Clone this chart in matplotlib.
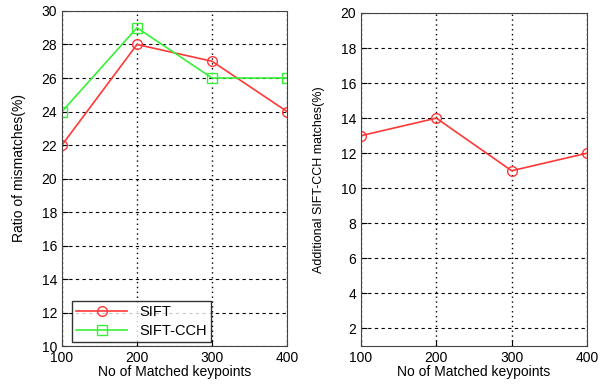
import matplotlib
matplotlib.use("Agg")
from matplotlib import pyplot as plt

plt.rcParams['font.family'] = ['Liberation Sans', 'DejaVu Sans']

keypoints = [100, 200, 300, 400]
sift = [22, 28, 27, 24]
sift_cch = [24, 29, 26, 26]
additional = [13, 14, 11, 12]

fig = plt.figure(figsize=(6.11, 3.90), dpi=100)
ax1 = fig.add_axes([0.1015, 0.1128, 0.3682, 0.859])
ax2 = fig.add_axes([0.5908, 0.1128, 0.3699, 0.8539])

red = "#ff3838"
green = "#38f038"

ax1.plot(keypoints, sift, '-o', color=red, mfc='none', ms=7, lw=1.2, label="SIFT")
ax1.plot(keypoints, sift_cch, '-s', color=green, mfc='none', ms=7, lw=1.2, label="SIFT-CCH")
ax1.set_xlim(100, 400)
ax1.set_ylim(10, 30)
ax1.set_yticks(range(10, 31, 2))
ax1.set_xlabel("No of Matched keypoints", fontsize=10, labelpad=0)
ax1.set_ylabel("Ratio of mismatches(%)", fontsize=10)
ax1.yaxis.set_label_coords(-0.162, 0.53)
ax1.legend(loc="lower left", bbox_to_anchor=(0.044, 0.012), fancybox=False,
           edgecolor='black', fontsize=10.5, borderaxespad=0, handlelength=3.5,
           borderpad=0.3, labelspacing=0.3)

ax2.plot(keypoints, additional, '-o', color=red, mfc='none', ms=7, lw=1.2)
ax2.set_xlim(100, 400)
ax2.set_ylim(1, 20)
ax2.set_yticks(range(2, 21, 2))
ax2.set_xlabel("No of Matched keypoints", fontsize=10, labelpad=0)
ax2.set_ylabel("Additional SIFT-CCH matches(%)", fontsize=9)
ax2.yaxis.set_label_coords(-0.157, 0.5)

for ax in (ax1, ax2):
    ax.set_xticks(keypoints)
    ax.tick_params(direction='in', labelsize=10, length=4)
    ax.yaxis.grid(True, linestyle=(0, (3, 3)), color='black', lw=0.8)
    ax.xaxis.grid(True, linestyle=(0, (1, 2.5)), color='black', lw=1.0)
    ax.set_axisbelow(True)
    for s in ax.spines.values():
        s.set_color('#444444')

fig.savefig("out.png", dpi=100)
